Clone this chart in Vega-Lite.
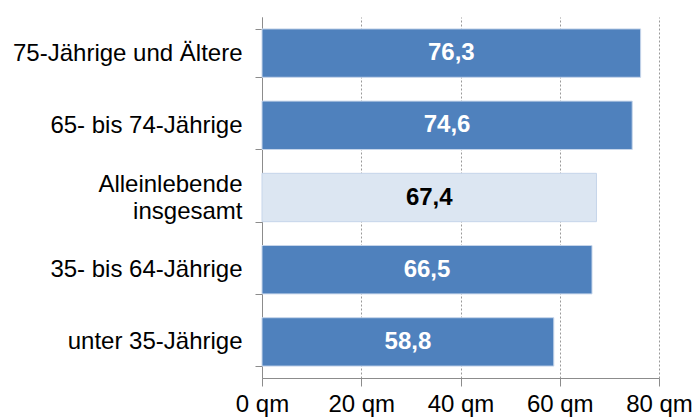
{
  "$schema": "https://vega.github.io/schema/vega-lite/v6.json",
  "width": 397,
  "height": 361,
  "autosize": {"type": "none"},
  "padding": {"left": 262, "top": 17, "right": 41, "bottom": 39},
  "background": "white",
  "config": {
    "view": {"stroke": null},
    "font": "Liberation Sans",
    "locale": {"number": {"decimal": ",", "thousands": ".", "grouping": [3], "currency": ["", " €"]}}
  },
  "data": {
    "values": [
      {"group": "75-Jährige und Ältere", "value": 76.3, "total": false},
      {"group": "65- bis 74-Jährige", "value": 74.6, "total": false},
      {"group": "Alleinlebende insgesamt", "value": 67.4, "total": true},
      {"group": "35- bis 64-Jährige", "value": 66.5, "total": false},
      {"group": "unter 35-Jährige", "value": 58.8, "total": false}
    ]
  },
  "encoding": {
    "y": {
      "field": "group",
      "type": "nominal",
      "sort": null,
      "scale": {"paddingInner": 0.33, "paddingOuter": 0.165},
      "axis": {
        "title": null,
        "tickBand": "extent",
        "tickSize": 7,
        "tickColor": "#8c8c8c",
        "domainColor": "#8c8c8c",
        "labelFont": "Liberation Sans",
        "labelFontSize": 24,
        "labelColor": "#000000",
        "labelPadding": 13,
        "labelLimit": 400,
        "labelLineHeight": 27,
        "labelOffset": {"condition": {"test": "datum.value == 'Alleinlebende insgesamt'", "value": -13}, "value": 0},
        "labelExpr": "datum.label == 'Alleinlebende insgesamt' ? ['Alleinlebende', 'insgesamt\u00a0\u00a0\u2009'] : datum.label"
      }
    }
  },
  "layer": [
    {
      "mark": {"type": "bar", "stroke": "#c6d5ea", "strokeWidth": 1},
      "encoding": {
        "x": {
          "field": "value",
          "type": "quantitative",
          "scale": {"domain": [0, 80], "nice": false},
          "axis": {
            "title": null,
            "values": [0, 20, 40, 60, 80],
            "labelExpr": "format(datum.value, 'd') + ' qm'",
            "grid": true,
            "gridColor": "#999999",
            "gridDash": [2, 2],
            "domainColor": "#8c8c8c",
            "tickColor": "#8c8c8c",
            "tickSize": 8,
            "labelFont": "Liberation Sans",
            "labelFontSize": 24,
            "labelColor": "#000000",
            "labelPadding": 6,
            "labelFlush": false,
            "labelOverlap": false
          }
        },
        "color": {
          "condition": {"test": "datum.total", "value": "#dce6f2"},
          "value": "#4f81bd"
        }
      }
    },
    {
      "transform": [{"calculate": "datum.value / 2", "as": "mid"}],
      "mark": {"type": "text", "fontWeight": "bold", "fontSize": 24, "font": "Liberation Sans", "baseline": "middle", "align": "center"},
      "encoding": {
        "x": {"field": "mid", "type": "quantitative"},
        "text": {"field": "value", "type": "quantitative", "format": ".1f"},
        "color": {
          "condition": {"test": "datum.total", "value": "#000000"},
          "value": "#ffffff"
        }
      }
    }
  ]
}
